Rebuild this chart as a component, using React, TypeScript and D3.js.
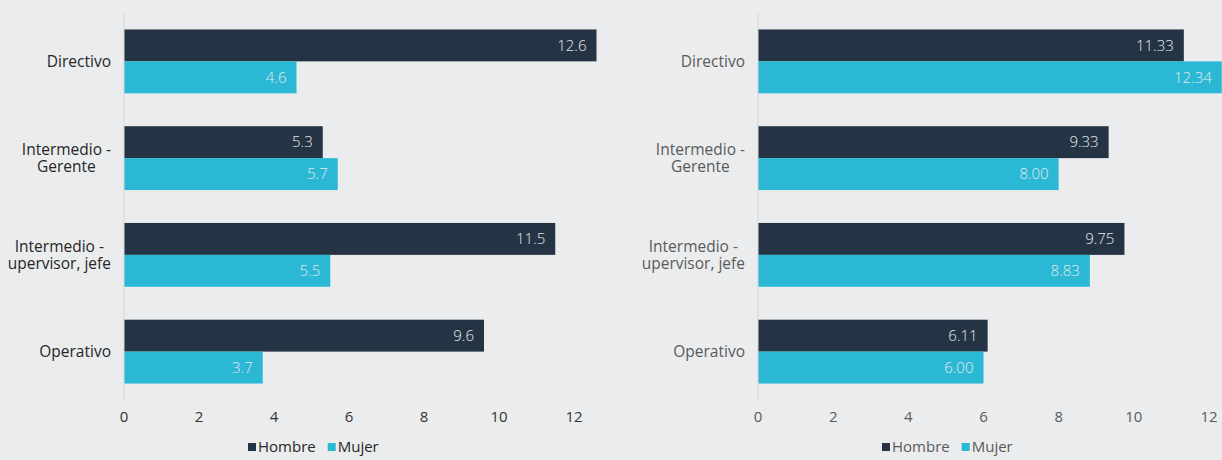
import React, { useRef, useEffect } from 'react';
import * as d3 from 'd3';

const categories = ['Directivo', 'Intermedio - Gerente', 'Intermedio - upervisor, jefe', 'Operativo'];
const categoryLines = [['Directivo'], ['Intermedio -', 'Gerente'], ['Intermedio -', 'upervisor, jefe'], ['Operativo']];
const series = ['Hombre', 'Mujer'];
const leftHombre = [12.6, 5.3, 11.5, 9.6];
const leftMujer = [4.6, 5.7, 5.5, 3.7];
const rightHombre = [11.33, 9.33, 9.75, 6.11];
const rightMujer = [12.34, 8.0, 8.83, 6.0];
const xTicks = [0, 2, 4, 6, 8, 10, 12];

const W = 1222;
const H = 460;
const COLORS = ['#253444', '#2bb8d4'];
const FONT = '"Open Sans", sans-serif';

export default function App() {
    const svgRef = useRef<SVGSVGElement>(null);

    useEffect(() => {
        if (!svgRef.current) return;
        const svg = d3.select(svgRef.current);
        svg.selectAll('*').remove();

        svg.append('rect').attr('width', W).attr('height', H).attr('fill', '#ebeced');

        const panels = [
            { x0: 124, x1: 574, hombre: leftHombre, mujer: leftMujer, fmt: d3.format('.1f'), textColor: '#262626', tickColor: '#333' },
            { x0: 758, x1: 1209, hombre: rightHombre, mujer: rightMujer, fmt: d3.format('.2f'), textColor: '#5a5a5a', tickColor: '#5a5a5a' },
        ];

        const y = d3.scaleBand<string>()
            .domain(categories)
            .range([13, 400])
            .paddingInner(0.34)
            .paddingOuter(0.17);

        const sub = d3.scaleBand<string>()
            .domain(series)
            .range([0, y.bandwidth()]);

        panels.forEach(p => {
            const x = d3.scaleLinear().domain([0, 12]).range([p.x0, p.x1]);
            const g = svg.append('g').style('font-family', FONT);

            // bars
            categories.forEach((c, i) => {
                const vals = [p.hombre[i], p.mujer[i]];
                series.forEach((s, j) => {
                    const by = (y(c) ?? 0) + (sub(s) ?? 0);
                    g.append('rect')
                        .attr('x', x(0))
                        .attr('y', by)
                        .attr('width', x(vals[j]) - x(0))
                        .attr('height', sub.bandwidth())
                        .attr('fill', COLORS[j]);
                    g.append('text')
                        .attr('x', x(vals[j]) - 10)
                        .attr('y', by + sub.bandwidth() / 2)
                        .attr('dy', '0.35em')
                        .attr('text-anchor', 'end')
                        .attr('font-size', 15)
                        .attr('font-weight', 300)
                        .attr('fill', '#e4e9ec')
                        .text(p.fmt(vals[j]));
                });
            });

            // axis line
            g.append('line')
                .attr('x1', x(0)).attr('x2', x(0))
                .attr('y1', 13).attr('y2', 400)
                .attr('stroke', '#d6d7d8').attr('stroke-width', 1);

            // category labels: one text per category, lines centered, block right-aligned
            categories.forEach((c, i) => {
                const lines = categoryLines[i];
                const cy = (y(c) ?? 0) + y.bandwidth() / 2;
                const t = g.append('text')
                    .attr('text-anchor', 'middle')
                    .attr('font-size', 15.5)
                    .attr('fill', p.textColor);
                const spans = lines.map((l, k) => t.append('tspan')
                    .attr('y', cy + (k - (lines.length - 1) / 2) * 17)
                    .attr('dy', '0.35em')
                    .text(l));
                const maxW = d3.max(spans, s => (s.node() as SVGTSpanElement).getComputedTextLength()) ?? 0;
                spans.forEach(s => s.attr('x', x(0) - 13 - maxW / 2));
            });

            // tick labels
            xTicks.forEach(t => {
                g.append('text')
                    .attr('x', x(t))
                    .attr('y', 417)
                    .attr('dy', '0.35em')
                    .attr('text-anchor', 'middle')
                    .attr('font-size', 15)
                    .attr('fill', p.tickColor)
                    .text(t);
            });

            // legend
            let lx = x(0) + 124;
            series.forEach((s, j) => {
                g.append('rect')
                    .attr('x', lx).attr('y', 443)
                    .attr('width', 8).attr('height', 8)
                    .attr('fill', COLORS[j]);
                const t = g.append('text')
                    .attr('x', lx + 10)
                    .attr('y', 447)
                    .attr('dy', '0.35em')
                    .attr('font-size', 15)
                    .attr('fill', p.textColor)
                    .text(s);
                lx += 10 + (t.node() as SVGTextElement).getComputedTextLength() + 12;
            });
        });
    }, []);

    return (
        <svg
            ref={svgRef}
            width={W}
            height={H}
            style={{ position: 'absolute', left: 0, top: 0, display: 'block' }}
        />
    );
}
